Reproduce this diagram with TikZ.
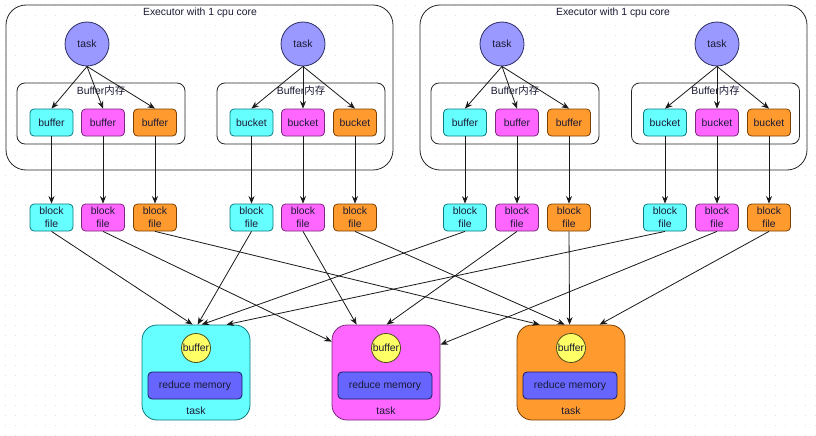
\documentclass[tikz,border=0pt]{standalone}
\usepackage{fontspec}
\setmainfont{Liberation Sans}
\newfontfamily\cjk{Noto Sans CJK SC}
\usetikzlibrary{arrows.meta}
\definecolor{cyF}{HTML}{66FFFF}
\definecolor{cyD}{HTML}{0B7A80}
\definecolor{mgF}{HTML}{FF66FF}
\definecolor{mgD}{HTML}{7A2A7A}
\definecolor{orF}{HTML}{FF9A2E}
\definecolor{orD}{HTML}{7A4000}
\definecolor{tkF}{HTML}{9999FF}
\definecolor{tkD}{HTML}{2E2E66}
\definecolor{rmF}{HTML}{6666FF}
\definecolor{rmD}{HTML}{1A1A5E}
\definecolor{ylF}{HTML}{FFFF66}
\definecolor{ylD}{HTML}{4D4D1A}
\definecolor{txt}{HTML}{1A1A33}
\begin{document}
\begin{tikzpicture}[x=1pt,y=-1pt,
  font=\fontsize{10.4}{12}\selectfont, text=txt,
  execbox/.style={draw=black!85, line width=0.8, rounded corners=20, minimum width=387, minimum height=165, inner sep=0},
  innerbox/.style={draw=black!85, line width=0.8, rounded corners=8, minimum width=168, minimum height=61, inner sep=0},
  taskc/.style={circle, draw=tkD, fill=tkF, line width=0.8, minimum size=44, inner sep=0},
  sbox/.style={draw=#1D, fill=#1F, line width=0.8, rounded corners=4, minimum width=43, minimum height=27, inner sep=0},
  bfile/.style={sbox=#1, align=center, font=\fontsize{10.4}{13}\selectfont},
  rtask/.style={draw=#1D, fill=#1F, line width=0.8, rounded corners=15, minimum width=108, minimum height=95, inner sep=0},
  bufc/.style={circle, draw=ylD, fill=ylF, line width=0.8, minimum size=29, inner sep=0},
  rmem/.style={draw=rmD, fill=rmF, line width=0.8, rounded corners=4, minimum width=94, minimum height=27, inner sep=0},
  arr/.style={draw=black!90, line width=0.8, -{Stealth[length=7.5,width=6]}}
]
\useasboundingbox (0,0) rectangle (816,436);
\fill[white] (0,0) rectangle (816,436);
\foreach \yy in {5,15,...,435}
  \draw[black!12, line width=0.8, dash pattern=on 0.8pt off 9.2pt] (5,\yy) -- (816,\yy);

% executors
\node[execbox] (E1) at (199.5,87.5) {};
\node[execbox] (E2) at (613.5,87.5) {};
\node (E1t) at (200,13) {Executor with 1 cpu core};
\node (E2t) at (613,13) {Executor with 1 cpu core};

% inner buffer boxes
\node[innerbox] (I1) at (101,113.5) {};
\node[innerbox] (I2) at (301,113.5) {};
\node[innerbox] (I3) at (515,113.5) {};
\node[innerbox] (I4) at (715.5,113.5) {};
\node (I1t) at (101,91) {Buffer{\cjk 内存}};
\node (I2t) at (301,91) {Buffer{\cjk 内存}};
\node (I3t) at (515,91) {Buffer{\cjk 内存}};
\node (I4t) at (715.5,91) {Buffer{\cjk 内存}};

% tasks
\node[taskc] (t1) at (87,44) {task};
\node[taskc] (t2) at (303,44) {task};
\node[taskc] (t3) at (502,44) {task};
\node[taskc] (t4) at (717,44) {task};

% buffers / buckets
\node[sbox=cy] (a1) at (51.5,122.5) {buffer};
\node[sbox=mg] (a2) at (103,122.5) {buffer};
\node[sbox=or] (a3) at (155,122.5) {buffer};
\node[sbox=cy] (b1) at (251.5,122.5) {bucket};
\node[sbox=mg] (b2) at (303,122.5) {bucket};
\node[sbox=or] (b3) at (355,122.5) {bucket};
\node[sbox=cy] (c1) at (465,122.5) {buffer};
\node[sbox=mg] (c2) at (517,122.5) {buffer};
\node[sbox=or] (c3) at (569,122.5) {buffer};
\node[sbox=cy] (d1) at (665,122.5) {bucket};
\node[sbox=mg] (d2) at (717,122.5) {bucket};
\node[sbox=or] (d3) at (769,122.5) {bucket};

% block files
\node[bfile=cy] (fa1) at (51.5,217.5) {block\\file};
\node[bfile=mg] (fa2) at (103,217.5) {block\\file};
\node[bfile=or] (fa3) at (155,217.5) {block\\file};
\node[bfile=cy] (fb1) at (251.5,217.5) {block\\file};
\node[bfile=mg] (fb2) at (303,217.5) {block\\file};
\node[bfile=or] (fb3) at (355,217.5) {block\\file};
\node[bfile=cy] (fc1) at (465,217.5) {block\\file};
\node[bfile=mg] (fc2) at (517,217.5) {block\\file};
\node[bfile=or] (fc3) at (569,217.5) {block\\file};
\node[bfile=cy] (fd1) at (665,217.5) {block\\file};
\node[bfile=mg] (fd2) at (717,217.5) {block\\file};
\node[bfile=or] (fd3) at (769,217.5) {block\\file};

% reduce tasks
\node[rtask=cy] (T1) at (196,372.5) {};
\node[rtask=mg] (T2) at (386,372.5) {};
\node[rtask=or] (T3) at (571,372.5) {};
\node[bufc] (u1) at (196,348) {buffer};
\node[bufc] (u2) at (386,348) {buffer};
\node[bufc] (u3) at (571,348) {buffer};
\node[rmem] (r1) at (195,385.5) {reduce memory};
\node[rmem] (r2) at (385,385.5) {reduce memory};
\node[rmem] (r3) at (570,385.5) {reduce memory};
\node (k1) at (196,411) {task};
\node (k2) at (386,411) {task};
\node (k3) at (571,411) {task};

% task -> buffers
\foreach \t/\p in {t1/a, t2/b, t3/c, t4/d}{
  \draw[arr] (\t.south) -- (\p1.north);
  \draw[arr] (\t.south) -- (\p2.north);
  \draw[arr] (\t.south) -- (\p3.north);
}
% buffers -> block files
\foreach \p in {a1,a2,a3,b1,b2,b3,c1,c2,c3,d1,d2,d3}
  \draw[arr] (\p.south) -- (f\p.north);

% block files -> reduce tasks
\draw[arr] (fa1.south) -- ([xshift=51pt]T1.north west);
\draw[arr] (fb1.south) -- ([xshift=56pt]T1.north west);
\draw[arr] (fc1.south) -- ([xshift=60pt]T1.north west);
\draw[arr] (fd1.south) -- ([xshift=85pt]T1.north west);

\draw[arr] (fa2.south) -- ([yshift=-17pt]T2.north west);
\draw[arr] (fb2.south) -- ([xshift=25pt]T2.north west);
\draw[arr] (fc2.south) -- ([xshift=55pt]T2.north west);
\draw[arr] (fd2.south) -- ([yshift=-20pt]T2.north east);

\draw[arr] (fa3.south) -- ([xshift=23pt]T3.north west);
\draw[arr] (fb3.south) -- ([xshift=48pt]T3.north west);
\draw[arr] (fc3.south) -- ([xshift=53pt]T3.north west);
\draw[arr] (fd3.south) -- ([xshift=83pt]T3.north west);
\end{tikzpicture}
\end{document}
